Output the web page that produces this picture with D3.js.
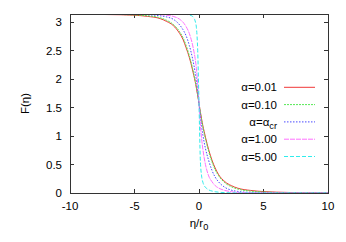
<!DOCTYPE html>
<html>
<head>
<meta charset="utf-8">
<script src="https://cdn.jsdelivr.net/npm/d3@7"></script>
<style>
  body { margin: 0; background: #fff; }
  svg { display: block; font-family: "Liberation Sans", Arial, sans-serif; }
</style>
</head>
<body>
<div id="chart"></div>
<script>
// eta grid shared by all curves
const eta = [-10, -8, -6, -5, -4, -3, -2.5, -2, -1.5, -1.25, -1, -0.75, -0.5, -0.4, -0.3, -0.2, -0.1, 0,
             0.1, 0.2, 0.3, 0.4, 0.5, 0.75, 1, 1.25, 1.5, 2, 2.5, 3, 4, 5, 6, 8, 10];

// F(eta), one array per alpha
const fAlpha001 = [3.139, 3.135, 3.128, 3.12, 3.10, 3.06, 3.01, 2.94, 2.80, 2.70, 2.55, 2.38, 2.16, 2.06, 1.96, 1.84, 1.71, 1.571,
                   1.43, 1.30, 1.18, 1.08, 0.98, 0.76, 0.58, 0.44, 0.33, 0.20, 0.13, 0.085, 0.045, 0.025, 0.015, 0.006, 0.003];
const fAlpha010 = [3.140, 3.137, 3.132, 3.125, 3.11, 3.075, 3.03, 2.96, 2.83, 2.73, 2.59, 2.41, 2.19, 2.09, 1.98, 1.86, 1.72, 1.571,
                   1.42, 1.28, 1.16, 1.05, 0.95, 0.73, 0.55, 0.41, 0.31, 0.18, 0.11, 0.07, 0.033, 0.017, 0.009, 0.003, 0.001];
const fAlphaCr  = [3.1416, 3.141, 3.14, 3.137, 3.13, 3.11, 3.09, 3.05, 2.95, 2.87, 2.76, 2.59, 2.36, 2.25, 2.12, 1.98, 1.79, 1.571,
                   1.36, 1.17, 1.02, 0.89, 0.78, 0.57, 0.40, 0.28, 0.20, 0.10, 0.05, 0.028, 0.009, 0.003, 0.001, 0, 0];
const fAlpha100 = [3.1416, 3.1416, 3.1416, 3.141, 3.14, 3.13, 3.12, 3.10, 3.05, 3.00, 2.92, 2.80, 2.60, 2.49, 2.36, 2.18, 1.92, 1.571,
                   1.22, 0.96, 0.77, 0.62, 0.50, 0.30, 0.20, 0.13, 0.09, 0.045, 0.022, 0.011, 0.003, 0.001, 0, 0, 0];
const fAlpha500 = [3.1416, 3.1416, 3.1416, 3.1416, 3.1416, 3.1416, 3.1416, 3.1416, 3.141, 3.14, 3.135, 3.125, 3.10, 3.07, 3.02, 2.90, 2.50, 1.571,
                   0.60, 0.30, 0.19, 0.13, 0.10, 0.055, 0.035, 0.022, 0.015, 0.006, 0.003, 0.001, 0, 0, 0, 0, 0];

const seriesNames = ['α=0.01', 'α=0.10', 'α=α_cr', 'α=1.00', 'α=5.00'];
const seriesValues = [fAlpha001, fAlpha010, fAlphaCr, fAlpha100, fAlpha500];

const xTicks = [-10, -5, 0, 5, 10];
const yTicks = [0, 0.5, 1, 1.5, 2, 2.5, 3];

// gnuplot-like line types, a bit paler as in the thin antialiased original
const colors = ['#f03838', '#55e855', '#4a4aff', '#ff70ff', '#30ecec'];
const dashes = ['none', '2,1', '1.5,1.5', '5,1', '4,2'];

const width = 346, height = 242;
const margin = { left: 70, right: 18, top: 14, bottom: 49 };

const svg = d3.select('#chart').append('svg')
    .attr('width', width)
    .attr('height', height);

const x = d3.scaleLinear().domain([-10, 10]).range([margin.left, width - margin.right]);
const y = d3.scaleLinear().domain([0, Math.PI]).range([height - margin.bottom, margin.top]);

const x0 = margin.left, x1 = width - margin.right;
const y0 = height - margin.bottom, y1 = margin.top;
const fontSize = 11.5;
const tickLen = 4;

svg.append('clipPath').attr('id', 'plot-clip')
    .append('rect')
    .attr('x', x0).attr('y', y1)
    .attr('width', x1 - x0).attr('height', y0 - y1);

// inward ticks, mirrored on top and right
const ticks = svg.append('g').attr('stroke', '#333').attr('stroke-width', 1).attr('shape-rendering', 'crispEdges');
xTicks.forEach(t => {
    ticks.append('line').attr('x1', x(t)).attr('x2', x(t)).attr('y1', y0).attr('y2', y0 - tickLen);
    ticks.append('line').attr('x1', x(t)).attr('x2', x(t)).attr('y1', y1).attr('y2', y1 + tickLen);
});
yTicks.forEach(t => {
    ticks.append('line').attr('x1', x0).attr('x2', x0 + tickLen).attr('y1', y(t)).attr('y2', y(t));
    ticks.append('line').attr('x1', x1).attr('x2', x1 - tickLen).attr('y1', y(t)).attr('y2', y(t));
});

// tick labels
svg.append('g').selectAll('text')
    .data(xTicks)
    .enter()
    .append('text')
    .attr('x', d => x(d))
    .attr('y', y0 + 17)
    .attr('text-anchor', 'middle')
    .attr('font-size', fontSize)
    .attr('fill', '#000')
    .text(d => d);

svg.append('g').selectAll('text')
    .data(yTicks)
    .enter()
    .append('text')
    .attr('x', x0 - 8)
    .attr('y', d => y(d) + 4)
    .attr('text-anchor', 'end')
    .attr('font-size', fontSize)
    .attr('fill', '#000')
    .text(d => d);

// axis titles
svg.append('text')
    .attr('transform', `translate(29,${(y0 + y1) / 2}) rotate(-90)`)
    .attr('text-anchor', 'middle')
    .attr('font-size', fontSize)
    .text('F(η)');

const xTitle = svg.append('text')
    .attr('x', x(0))
    .attr('y', y0 + 34)
    .attr('text-anchor', 'middle')
    .attr('font-size', fontSize);
xTitle.append('tspan').text('η/r');
xTitle.append('tspan').attr('dy', 3).attr('font-size', fontSize * 0.8).text('0');

// curves
const line = d3.line()
    .x(d => x(d[0]))
    .y(d => y(d[1]))
    .curve(d3.curveMonotoneX);

const curves = svg.append('g').attr('clip-path', 'url(#plot-clip)');
seriesValues.forEach((vals, i) => {
    curves.append('path')
        .datum(eta.map((e, k) => [e, vals[k]]))
        .attr('fill', 'none')
        .attr('stroke', colors[i])
        .attr('stroke-width', 1)
        .attr('stroke-dasharray', dashes[i])
        .attr('d', line);
});

// legend
const legendX = 277, legendY = 87.3, legendStep = 17.3;
const legend = svg.append('g');
seriesNames.forEach((name, i) => {
    const ly = legendY + i * legendStep;
    const label = legend.append('text')
        .attr('x', legendX)
        .attr('y', ly + 4)
        .attr('text-anchor', 'end')
        .attr('font-size', fontSize);
    if (name.includes('_')) {
        const parts = name.split('_');
        label.append('tspan').text(parts[0]);
        label.append('tspan').attr('dy', 3).attr('font-size', fontSize * 0.8).text(parts[1]);
    } else {
        label.text(name);
    }
    legend.append('line')
        .attr('x1', 284).attr('x2', 315)
        .attr('y1', ly).attr('y2', ly)
        .attr('stroke', colors[i])
        .attr('stroke-width', 1)
        .attr('stroke-dasharray', dashes[i]);
});

// border
svg.append('rect')
    .attr('x', x0).attr('y', y1)
    .attr('width', x1 - x0).attr('height', y0 - y1)
    .attr('fill', 'none')
    .attr('stroke', '#333')
    .attr('stroke-width', 1)
    .attr('shape-rendering', 'crispEdges');
</script>
</body>
</html>
